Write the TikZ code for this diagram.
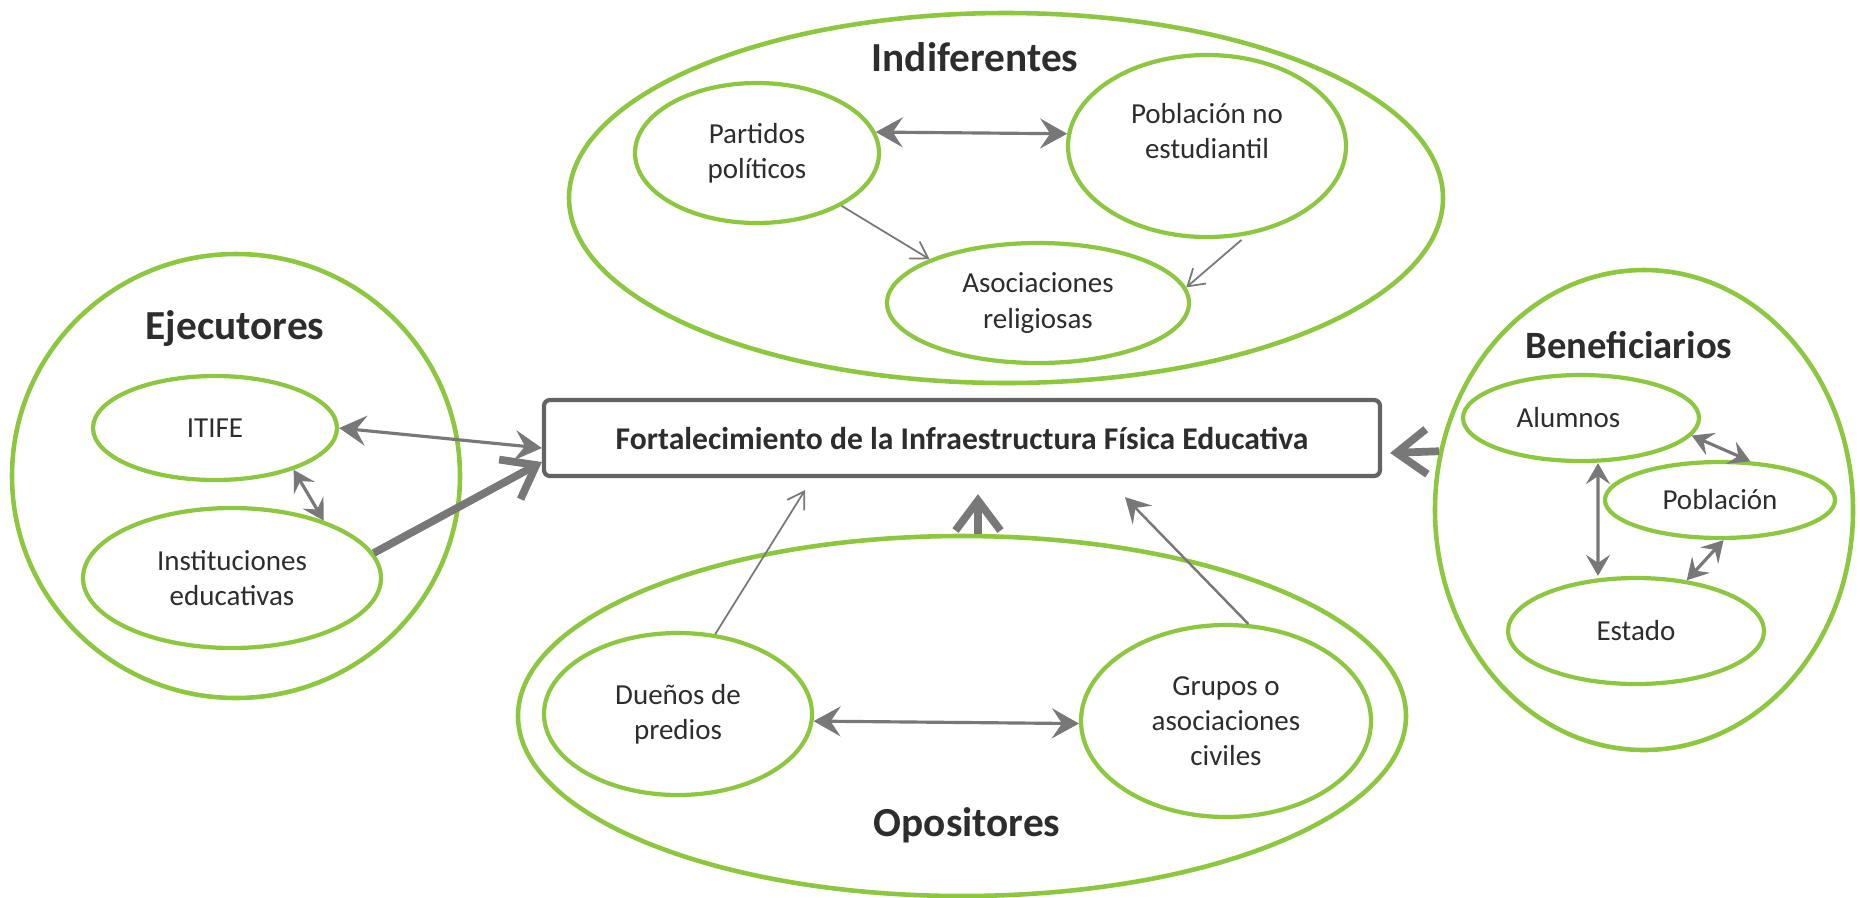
\documentclass[tikz,border=0pt]{standalone}
\usepackage{fontspec}
\setmainfont{Carlito}
\usetikzlibrary{shapes.geometric,arrows.meta}
\definecolor{leaf}{RGB}{141,198,63}
\definecolor{shaft}{RGB}{120,120,120}
\definecolor{frame}{RGB}{100,100,100}
\definecolor{ink}{RGB}{45,45,45}

\begin{document}
\begin{tikzpicture}[x=0.2mm,y=-0.2mm,
  cluster/.style={ellipse,draw=leaf,line width=2.6pt,inner sep=0pt},
  actor/.style={ellipse,draw=leaf,line width=2.4pt,inner sep=0pt,align=center,text=ink,font=\fontsize{16.5}{20}\selectfont},
  heading/.style={text=ink,font=\bfseries\fontsize{23.5}{28}\selectfont},
  link/.style={draw=shaft,line width=1.8pt},
  twoarrow/.style={link,{Stealth[length=5.4mm,width=6mm,inset=2mm]}-{Stealth[length=5.4mm,width=6mm,inset=2mm]}},
  smallarrow/.style={link,{Stealth[length=4.2mm,width=4.8mm,inset=1.6mm]}-{Stealth[length=4.2mm,width=4.8mm,inset=1.6mm]}},
  onearrow/.style={link,-{Stealth[length=5mm,width=5.4mm,inset=2mm]}},
  finearrow/.style={link,line width=1pt,-{Straight Barb[length=3.2mm,width=4mm]}},
  fatarrow/.style={link,line width=4.4pt,-{Straight Barb[length=6mm,width=9mm]}}]
\useasboundingbox (0,0) rectangle (1860,897);

% objetivo
\node[draw=frame,line width=2.4pt,rounded corners=1.2mm,minimum width=167.2mm,minimum height=15.2mm,
      text=ink,font=\bfseries\fontsize{18}{21}\selectfont] (goal) at (962,438)
      {Fortalecimiento de la Infraestructura Física Educativa};

% ejecutores
\node[cluster,minimum width=89.6mm,minimum height=88.8mm] (ejec) at (236,476) {};
\node[heading] (ejeclbl) at (235,328) {Ejecutores};
\node[actor,minimum width=48.8mm,minimum height=20.8mm] (itife) at (215,428) {ITIFE};
\node[actor,minimum width=59.6mm,minimum height=28mm] (inst) at (232,578) {Instituciones\\educativas};

% indiferentes
\node[cluster,minimum width=174.8mm,minimum height=74mm] (indif) at (1006,198) {};
\node[heading] (indiflbl) at (975,57) {Indiferentes};
\node[actor,minimum width=48.8mm,minimum height=28mm] (partidos) at (757,153) {Partidos\\políticos};
\node[actor,minimum width=55.6mm,minimum height=36.4mm] (noest) at (1207,146) {};
\node[text=ink,align=center,font=\fontsize{16.5}{20}\selectfont] (noestlbl) at (1207,131) {Población no\\estudiantil};
\node[actor,minimum width=60.4mm,minimum height=24mm] (asoc) at (1038,303) {Asociaciones\\religiosas};

% opositores
\node[cluster,minimum width=177.6mm,minimum height=72mm] (opos) at (962,716) {};
\node[heading] (oposlbl) at (967,825) {Opositores};
\node[actor,minimum width=53.6mm,minimum height=32.4mm] (duenos) at (678,714) {Dueños de\\predios};
\node[actor,minimum width=58mm,minimum height=38.4mm] (grupos) at (1226,721) {Grupos o\\asociaciones\\civiles};

% beneficiarios
\node[cluster,minimum width=83.6mm,minimum height=96mm] (benef) at (1644,510) {};
\node[heading,font=\bfseries\fontsize{22}{26}\selectfont] (beneflbl) at (1629,345) {Beneficiarios};
\node[actor,minimum width=47.2mm,minimum height=17.2mm] (alumnos) at (1581,418) {Alumnos\hspace*{5mm}};
\node[actor,minimum width=46mm,minimum height=15.2mm] (pobl) at (1720,500) {Población};
\node[actor,minimum width=51.2mm,minimum height=21.2mm] (estado) at (1636,631) {Estado};

% relaciones
\draw[twoarrow] (itife.east) -- ([yshift=-2mm]goal.west);
\draw[fatarrow] (inst.10) -- ([yshift=-4.8mm]goal.west);
\draw[smallarrow] (itife.-28) -- (inst.32);
\draw[twoarrow] (partidos.10) -- (noest.175);
\draw[finearrow] (partidos.-32) -- (asoc.158);
\draw[finearrow,shorten <=1.4mm] (noest.-66) -- (asoc.6);
\draw[twoarrow] (duenos.-3) -- (grupos.181);
\draw[finearrow] (duenos.65) -- ([xshift=-31.4mm,yshift=-2.4mm]goal.south);
\draw[fatarrow] ([xshift=3.2mm]opos.north) -- ([xshift=3.2mm,yshift=-3.2mm]goal.south);
\draw[onearrow,line width=1.4pt] (grupos.77) -- ([xshift=32.6mm,yshift=-3.8mm]goal.south);
\draw[smallarrow] (alumnos.-9) -- (pobl.52);
\draw[smallarrow] ([xshift=3.4mm]alumnos.south) -- ([xshift=-7.6mm]estado.north);
\draw[smallarrow] (pobl.-85) -- (estado.45);
\draw[fatarrow] (benef.164) -- ([xshift=1.6mm,yshift=-3mm]goal.east);
\end{tikzpicture}
\end{document}
